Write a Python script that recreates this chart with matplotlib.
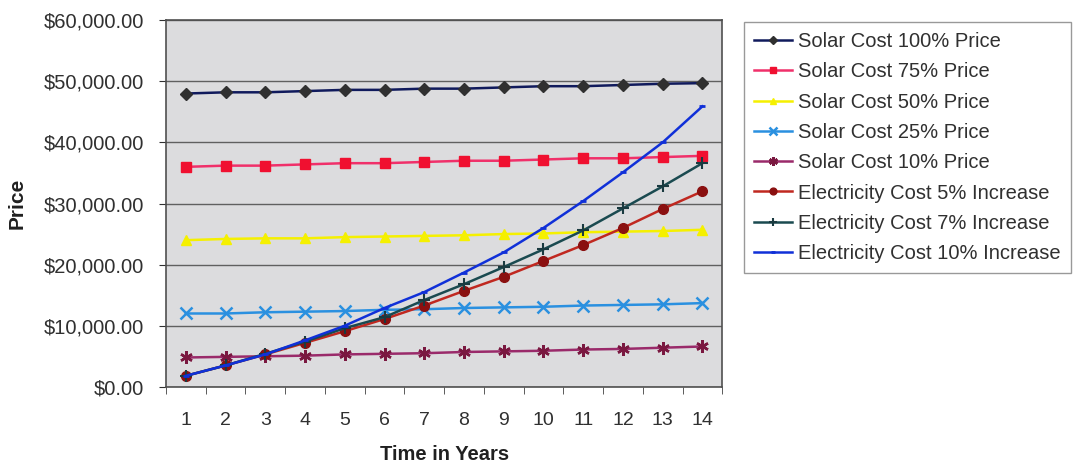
import numpy as np
import matplotlib.pyplot as plt
from matplotlib.ticker import FuncFormatter, MultipleLocator

plt.rcParams['font.family'] = ['Liberation Sans', 'DejaVu Sans']

# Data
years = list(range(1, 15))
solar_100 = [48000, 48200, 48200, 48400, 48600, 48600, 48800, 48800, 49000, 49200, 49200, 49400, 49600, 49700]
solar_75 = [36000, 36200, 36200, 36400, 36600, 36600, 36800, 37000, 37000, 37200, 37400, 37400, 37600, 37800]
solar_50 = [24000, 24200, 24300, 24300, 24500, 24600, 24700, 24800, 25000, 25100, 25300, 25400, 25500, 25700]
solar_25 = [12000, 12000, 12200, 12300, 12400, 12600, 12700, 12900, 13000, 13100, 13300, 13400, 13500, 13700]
solar_10 = [4800, 4900, 5000, 5100, 5300, 5400, 5500, 5700, 5800, 5900, 6100, 6200, 6400, 6600]
elec_5 = [1800, 3500, 5300, 7200, 9100, 11100, 13300, 15700, 18000, 20600, 23200, 26000, 29100, 32000]
elec_7 = [1800, 3500, 5400, 7400, 9600, 11400, 14200, 16800, 19600, 22500, 25600, 29200, 32800, 36600]
elec_10 = [1800, 3500, 5300, 7600, 10000, 12900, 15500, 18700, 22000, 26000, 30400, 35100, 40000, 45900]

labels = ['Solar Cost 100% Price', 'Solar Cost 75% Price', 'Solar Cost 50% Price',
          'Solar Cost 25% Price', 'Solar Cost 10% Price', 'Electricity Cost 5% Increase',
          'Electricity Cost 7% Increase', 'Electricity Cost 10% Increase']
series = [solar_100, solar_75, solar_50, solar_25, solar_10, elec_5, elec_7, elec_10]

styles = [
    dict(color='#101a5c', marker='D', ms=6, mfc='#303030', mec='#303030'),
    dict(color='#f0306a', marker='s', ms=7, mfc='#f01030', mec='#f01030'),
    dict(color='#f5f000', marker='^', ms=7, mfc='#f5f000', mec='#f5f000'),
    dict(color='#2a90e0', marker='x', ms=8, mew=1.8, mfc='#2a90e0', mec='#2a90e0'),
    dict(color='#9a2a6a', marker=(6, 2, 0), ms=9, mew=1.8, mfc='#7a1840', mec='#7a1840'),
    dict(color='#c02820', marker='o', ms=7, mfc='#8a1010', mec='#8a1010'),
    dict(color='#1a4a50', marker='+', ms=9, mew=1.5, mfc='#1a3a40', mec='#1a3a40'),
    dict(color='#1030d8', marker='_', ms=5, mew=2, mfc='#1030d8', mec='#1030d8'),
]

fig = plt.figure(figsize=(10.78, 4.70), dpi=100)
ax = fig.add_axes([0.154, 0.177, 0.516, 0.780])
ax.set_facecolor('#dcdcde')

for vals, lab, st in zip(series, labels, styles):
    ax.plot(years, vals, lw=1.8, label=lab, **st)

ax.set_xlim(0.5, 14.5)
ax.set_ylim(0, 60000)
ax.set_xticks(years)
ax.xaxis.set_minor_locator(plt.FixedLocator(np.arange(0.5, 15, 1)))
ax.tick_params(axis='x', which='major', length=0, pad=18, labelsize=14, labelcolor='#303030')
ax.tick_params(axis='x', which='minor', length=5, direction='out', color='#404040')
ax.yaxis.set_major_locator(MultipleLocator(10000))
ax.yaxis.set_major_formatter(FuncFormatter(lambda v, p: '${:,.2f}'.format(v)))
ax.tick_params(axis='y', length=5, pad=11, labelsize=14.5, labelcolor='#303030', color='#303030')
ax.grid(axis='y', color='#606060', lw=1)
ax.set_axisbelow(True)
for s in ax.spines.values():
    s.set_color('#505050')
    s.set_linewidth(1.2)

ax.set_xlabel('Time in Years', fontsize=14.5, fontweight='bold', labelpad=12, color='#202020')
ax.set_ylabel('Price', fontsize=15, fontweight='bold', labelpad=12, color='#202020')

leg = fig.legend(loc='upper left', bbox_to_anchor=(0.690, 0.953), fontsize=14.5,
                 frameon=True, fancybox=False, edgecolor='#808080', handlelength=1.9,
                 labelspacing=0.56, handletextpad=0.3, borderpad=0.5, borderaxespad=0,
                 markerscale=0.7)
leg.get_frame().set_linewidth(1)
for t in leg.get_texts():
    t.set_color('#303030')

fig.savefig('out.png', dpi=100)
